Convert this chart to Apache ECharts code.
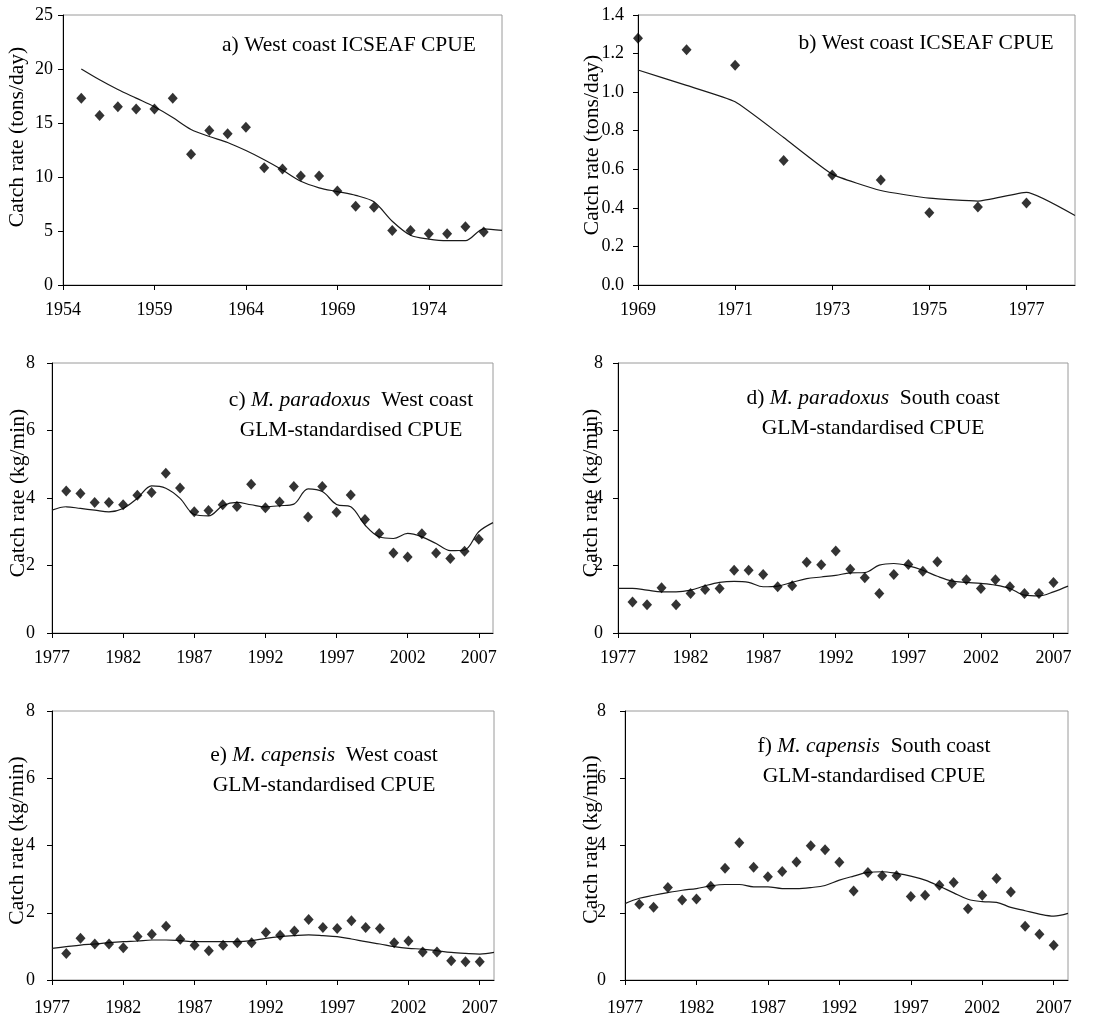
<!DOCTYPE html>
<html>
<head>
<meta charset="utf-8">
<script src="https://cdn.jsdelivr.net/npm/echarts@6/dist/echarts.min.js"></script>
<style>
html, body { margin: 0; padding: 0; background: #fff; }
#chart { width: 1113px; height: 1023px; }
</style>
</head>
<body>
<div id="chart"></div>
<script>
// a) West coast ICSEAF CPUE, tons/day
var aObsYears = [1955,1956,1957,1958,1959,1960,1961,1962,1963,1964,1965,1966,1967,1968,1969,1970,1971,1972,1973,1974,1975,1976,1977];
var aObs = [17.3,15.7,16.5,16.3,16.3,17.3,12.1,14.3,14.0,14.6,10.85,10.75,10.1,10.1,8.7,7.3,7.2,5.05,5.05,4.75,4.75,5.4,4.9];
var aFitYears = [1955,1956,1957,1958,1959,1960,1961,1962,1963,1964,1965,1966,1967,1968,1969,1970,1971,1972,1973,1974,1975,1976,1977,1978];
var aFit = [20.0,19.0,18.1,17.3,16.5,15.5,14.4,13.75,13.2,12.45,11.6,10.65,9.6,9.0,8.65,8.3,7.7,5.9,4.6,4.25,4.1,4.1,5.2,5.05];
var aTicks = [1954,1959,1964,1969,1974];

// b) West coast ICSEAF CPUE, tons/day (second series)
var bObsYears = [1969,1970,1971,1972,1973,1974,1975,1976,1977];
var bObs = [1.28,1.22,1.14,0.645,0.57,0.545,0.375,0.405,0.425];
var bFitYears = [1969,1970,1971,1972,1973,1974,1975,1976,1977,1978];
var bFit = [1.115,1.035,0.95,0.765,0.575,0.49,0.45,0.435,0.48,0.36];
var bTicks = [1969,1971,1973,1975,1977];

// c-f) GLM-standardised CPUE, kg/min
var glmObsYears = [1978,1979,1980,1981,1982,1983,1984,1985,1986,1987,1988,1989,1990,1991,1992,1993,1994,1995,1996,1997,1998,1999,2000,2001,2002,2003,2004,2005,2006,2007];
var glmFitYears = [1977,1978,1979,1980,1981,1982,1983,1984,1985,1986,1987,1988,1989,1990,1991,1992,1993,1994,1995,1996,1997,1998,1999,2000,2001,2002,2003,2004,2005,2006,2007,2008];
var glmTicks = [1977,1982,1987,1992,1997,2002,2007];

var cObs = [4.21,4.13,3.87,3.87,3.80,4.08,4.16,4.73,4.30,3.59,3.63,3.80,3.75,4.41,3.71,3.88,4.34,3.44,4.34,3.58,4.09,3.36,2.95,2.37,2.25,2.94,2.37,2.21,2.42,2.78];
var cFit = [3.64,3.74,3.69,3.64,3.59,3.69,3.99,4.36,4.29,3.99,3.51,3.47,3.77,3.87,3.80,3.74,3.77,3.82,4.27,4.19,3.81,3.74,3.20,2.85,2.80,2.95,2.85,2.65,2.44,2.46,3.00,3.27];

var dObs = [0.92,0.84,1.34,0.84,1.17,1.29,1.32,1.86,1.86,1.73,1.37,1.40,2.10,2.02,2.43,1.89,1.64,1.17,1.73,2.03,1.83,2.11,1.47,1.58,1.32,1.58,1.37,1.17,1.17,1.50];
var dFit = [1.32,1.32,1.27,1.22,1.22,1.27,1.40,1.50,1.53,1.50,1.37,1.39,1.50,1.61,1.66,1.71,1.78,1.79,2.01,2.06,1.99,1.86,1.68,1.54,1.50,1.47,1.42,1.32,1.12,1.10,1.22,1.39];

var eObs = [0.79,1.24,1.07,1.07,0.96,1.29,1.36,1.60,1.21,1.03,0.87,1.03,1.11,1.11,1.41,1.33,1.46,1.80,1.56,1.53,1.76,1.56,1.53,1.11,1.16,0.83,0.83,0.57,0.54,0.54];
var eFit = [0.94,0.99,1.04,1.07,1.11,1.14,1.16,1.19,1.19,1.17,1.14,1.14,1.14,1.14,1.17,1.24,1.29,1.32,1.34,1.32,1.29,1.22,1.14,1.07,0.99,0.94,0.92,0.87,0.82,0.79,0.77,0.82];

var fObs = [2.25,2.16,2.75,2.38,2.41,2.79,3.32,4.08,3.35,3.07,3.23,3.51,3.99,3.87,3.50,2.65,3.20,3.10,3.10,2.48,2.52,2.82,2.90,2.12,2.52,3.02,2.62,1.60,1.36,1.03];
var fFit = [2.27,2.43,2.52,2.60,2.67,2.72,2.80,2.84,2.84,2.77,2.77,2.72,2.72,2.75,2.81,2.97,3.09,3.20,3.22,3.17,3.09,2.97,2.79,2.59,2.40,2.33,2.31,2.16,2.06,1.96,1.90,1.98];

var FONT = "'Liberation Serif', 'Times New Roman', serif";
var GLM = '\n{n|GLM-standardised CPUE}';

var panels = [
   { obsYears: aObsYears, obs: aObs, fitYears: aFitYears, fit: aFit, xMin: 1954, xMax: 1978, ticks: aTicks,
     yMax: 25, yStep: 5, digits: 0, grid: { left: 63, top: 15, width: 439, height: 270 },
     yName: 'Catch rate (tons/day)', nameGap: 35, namePad: 26, yMargin: 10, xMargin: 16, smooth: 0.3,
     title: '{n|a) West coast ICSEAF CPUE}', tx: 349, ty: 45 },
   { obsYears: bObsYears, obs: bObs, fitYears: bFitYears, fit: bFit, xMin: 1969, xMax: 1978, ticks: bTicks,
     yMax: 1.4, yStep: 0.2, digits: 1, grid: { left: 638, top: 15, width: 437, height: 270 },
     yName: 'Catch rate (tons/day)', nameGap: 35, namePad: 10, yMargin: 14, xMargin: 16, smooth: 0.15,
     title: '{n|b) West coast ICSEAF CPUE}', tx: 926, ty: 43 },
   { obsYears: glmObsYears, obs: cObs, fitYears: glmFitYears, fit: cFit, xMin: 1977, xMax: 2008, ticks: glmTicks,
     yMax: 8, yStep: 2, digits: 0, grid: { left: 52, top: 363, width: 441, height: 270 },
     yName: 'Catch rate (kg/min)', nameGap: 23, namePad: 10, yMargin: 17, xMargin: 16, smooth: 0.35,
     title: '{n|c) }{i|M. paradoxus}{n|  West coast}' + GLM, tx: 351, ty: 415 },
   { obsYears: glmObsYears, obs: dObs, fitYears: glmFitYears, fit: dFit, xMin: 1977, xMax: 2008, ticks: glmTicks,
     yMax: 8, yStep: 2, digits: 0, grid: { left: 618, top: 363, width: 450, height: 270 },
     yName: 'Catch rate (kg/min)', nameGap: 16, namePad: 10, yMargin: 15, xMargin: 16, smooth: 0.35,
     title: '{n|d) }{i|M. paradoxus}{n|  South coast}' + GLM, tx: 873, ty: 413 },
   { obsYears: glmObsYears, obs: eObs, fitYears: glmFitYears, fit: eFit, xMin: 1977, xMax: 2008, ticks: glmTicks,
     yMax: 8, yStep: 2, digits: 0, grid: { left: 52, top: 711, width: 442, height: 269 },
     yName: 'Catch rate (kg/min)', nameGap: 24, namePad: 10, yMargin: 17, xMargin: 19, smooth: 0.35,
     title: '{n|e) }{i|M. capensis}{n|  West coast}' + GLM, tx: 324, ty: 770 },
   { obsYears: glmObsYears, obs: fObs, fitYears: glmFitYears, fit: fFit, xMin: 1977, xMax: 2008, ticks: glmTicks,
     yMax: 8, yStep: 2, digits: 0, grid: { left: 625, top: 711, width: 443, height: 269 },
     yName: 'Catch rate (kg/min)', nameGap: 23, namePad: 12, yMargin: 19, xMargin: 19, smooth: 0.35,
     title: '{n|f) }{i|M. capensis}{n|  South coast}' + GLM, tx: 874, ty: 761 }
];

var grids = [], xAxes = [], yAxes = [], series = [], graphics = [];

panels.forEach(function (p, i) {
   grids.push({
      left: p.grid.left, top: p.grid.top, width: p.grid.width, height: p.grid.height,
      show: true, borderColor: '#9a9a9a', borderWidth: 1, backgroundColor: 'transparent'
   });
   xAxes.push({
      type: 'value', gridIndex: i, min: p.xMin, max: p.xMax,
      splitLine: { show: false },
      axisLine: { lineStyle: { color: '#000', width: 1 } },
      axisTick: { length: 5, lineStyle: { color: '#000' }, customValues: p.ticks },
      axisLabel: {
         customValues: p.ticks, margin: p.xMargin, color: '#000', fontFamily: FONT, fontSize: 18,
         formatter: function (v) { return String(v); }
      }
   });
   yAxes.push({
      type: 'value', gridIndex: i, min: 0, max: p.yMax, interval: p.yStep,
      splitLine: { show: false },
      axisLine: { show: true, lineStyle: { color: '#000', width: 1 } },
      axisTick: { show: true, length: 5, lineStyle: { color: '#000' } },
      axisLabel: {
         margin: p.yMargin, color: '#000', fontFamily: FONT, fontSize: 18,
         formatter: function (v) { return v.toFixed(p.digits); }
      },
      name: p.yName, nameLocation: 'middle', nameGap: p.nameGap, nameMoveOverlap: false,
      nameTextStyle: { color: '#000', fontFamily: FONT, fontSize: 21.5, padding: [0, 0, 0, p.namePad] }
   });
   series.push({
      type: 'line', xAxisIndex: i, yAxisIndex: i,
      data: p.fitYears.map(function (y, k) { return [y, p.fit[k]]; }),
      showSymbol: false, smooth: p.smooth,
      lineStyle: { color: '#1a1a1a', width: 1.2 }, z: 2
   });
   series.push({
      type: 'scatter', xAxisIndex: i, yAxisIndex: i,
      data: p.obsYears.map(function (y, k) { return [y, p.obs[k]]; }),
      symbol: 'diamond', symbolSize: [10, 11],
      itemStyle: { color: '#000' }, z: 3
   });
   graphics.push({
      type: 'text', x: p.tx, y: p.ty, z: 10,
      style: {
         text: p.title, textAlign: 'center', textVerticalAlign: 'middle', fill: '#000',
         rich: {
            n: { fontFamily: FONT, fontSize: 21.5, lineHeight: 30, fill: '#000' },
            i: { fontFamily: FONT, fontSize: 21.5, lineHeight: 30, fontStyle: 'italic', fill: '#000' }
         }
      }
   });
});

var chart = echarts.init(document.getElementById('chart'));
chart.setOption({
   animation: false,
   backgroundColor: '#fff',
   grid: grids,
   xAxis: xAxes,
   yAxis: yAxes,
   series: series,
   graphic: graphics
});
</script>
</body>
</html>
